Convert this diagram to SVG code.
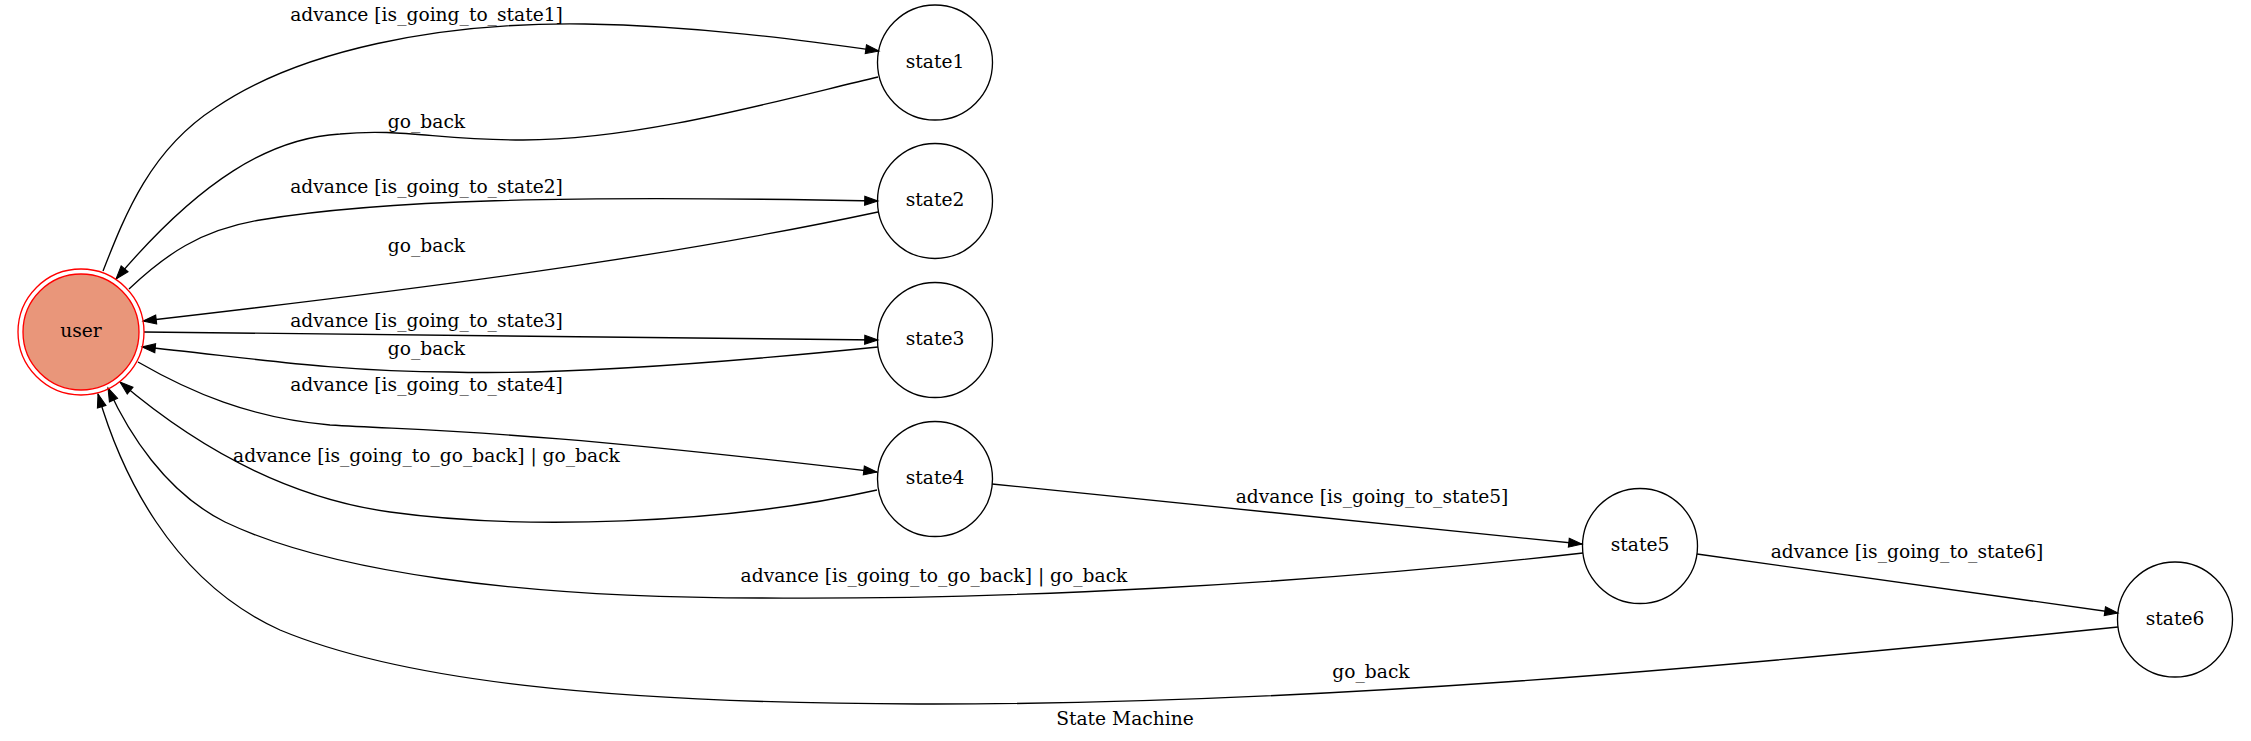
<svg xmlns="http://www.w3.org/2000/svg" width="2251" height="741" viewBox="0 0 2251 741">
<style>
text{font-family:"DejaVu Serif","Liberation Serif",serif;font-size:18.67px;fill:#000;text-anchor:middle}
.node{fill:none;stroke:#000;stroke-width:1.33}
.edge{fill:none;stroke:#000;stroke-width:1.33;marker-end:url(#arr)}
</style>
<defs>
<marker id="arr" markerUnits="userSpaceOnUse" markerWidth="14" markerHeight="10" refX="13.3" refY="4.5" orient="auto" overflow="visible">
<path d="M0,0 L13.3,4.5 L0,9 z" fill="#000" stroke="#000" stroke-width="1"/>
</marker>
</defs>
<rect width="2251" height="741" fill="#fff"/>
<g id="edges">
<path class="edge" d="M103,271 C125,215 150,150 215,108 C300,50 440,22 585,24 C700,26 800,40 879,51"/>
<path class="edge" d="M878,77 C780,100 640,140 523,140 C440,140 400,128 340,134 C270,138 200,180 116,279"/>
<path class="edge" d="M129,289 C165,255 200,230 260,220 C380,200 560,195 878,201"/>
<path class="edge" d="M878,212 C700,250 500,280 143,321"/>
<path class="edge" d="M144,332 C400,333 650,336 878,340"/>
<path class="edge" d="M878,347 C700,365 550,375 450,372 C330,372 230,355 142,347"/>
<path class="edge" d="M138,362 C190,392 250,418 330,425 C450,432 520,430 877,472"/>
<path class="edge" d="M877,490 C720,525 520,530 390,512 C290,498 200,450 120,382"/>
<path class="edge" d="M992,484 L1582,544"/>
<path class="edge" d="M1583,553 C1300,585 1000,600 760,598 C520,598 330,572 225,522 C165,492 128,432 108,388"/>
<path class="edge" d="M1697,554 L2118,613"/>
<path class="edge" d="M2118,627 C1700,670 1300,705 918,704 C600,703 400,680 280,630 C170,580 120,470 98,394"/>
<text x="426.5" y="20.7">advance [is_going_to_state1]</text>
<text x="426.5" y="128">go_back</text>
<text x="426.5" y="193">advance [is_going_to_state2]</text>
<text x="426.5" y="252">go_back</text>
<text x="426.5" y="327">advance [is_going_to_state3]</text>
<text x="426.5" y="355">go_back</text>
<text x="426.5" y="391">advance [is_going_to_state4]</text>
<text x="426.5" y="462">advance [is_going_to_go_back] | go_back</text>
<text x="1372" y="503">advance [is_going_to_state5]</text>
<text x="934" y="582">advance [is_going_to_go_back] | go_back</text>
<text x="1907" y="558">advance [is_going_to_state6]</text>
<text x="1371" y="678">go_back</text>
</g>
<g id="user">
<circle cx="81" cy="332" r="63" fill="none" stroke="#ff0000" stroke-width="1.33"/>
<circle cx="81" cy="332" r="58" fill="#e9967a" stroke="#ff0000" stroke-width="1.33"/>
<text x="81" y="337">user</text>
</g>
<g id="state1"><circle class="node" cx="935" cy="62.5" r="57.5"/><text x="935" y="67.7">state1</text></g>
<g id="state2"><circle class="node" cx="935" cy="201" r="57.5"/><text x="935" y="206.2">state2</text></g>
<g id="state3"><circle class="node" cx="935" cy="340" r="57.5"/><text x="935" y="345.2">state3</text></g>
<g id="state4"><circle class="node" cx="935" cy="479" r="57.5"/><text x="935" y="484.2">state4</text></g>
<g id="state5"><circle class="node" cx="1640" cy="546" r="57.5"/><text x="1640" y="551.2">state5</text></g>
<g id="state6"><circle class="node" cx="2175" cy="619.5" r="57.5"/><text x="2175" y="624.7">state6</text></g>
<text id="title" x="1125" y="725">State Machine</text>
</svg>
